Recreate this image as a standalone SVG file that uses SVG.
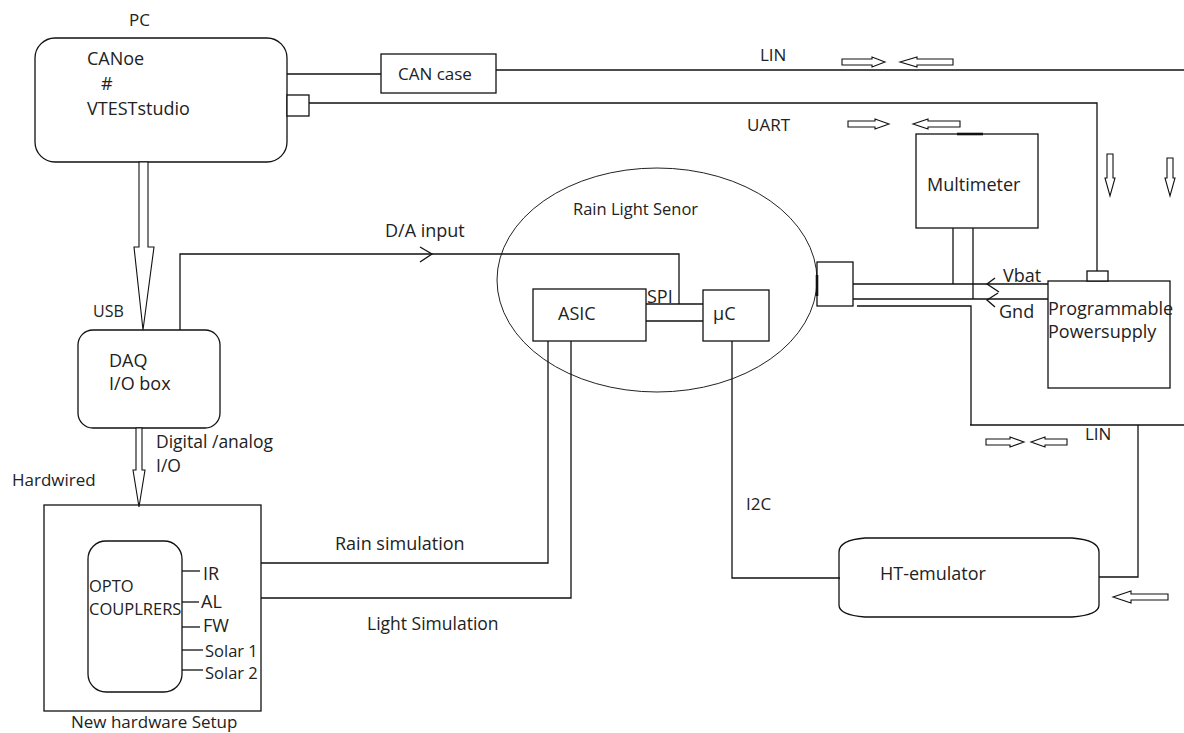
<svg xmlns="http://www.w3.org/2000/svg" width="1184" height="733" viewBox="0 0 1184 733">
<style>
.ln{fill:none;stroke:#111;stroke-width:1.3}
.bx{fill:#fff;stroke:#111;stroke-width:1.3}
.ha{fill:#fff;stroke:#111;stroke-width:1.1}
.th{fill:none;stroke:#111;stroke-width:2.6}
text{font-family:"Open Sans","Liberation Sans",sans-serif;font-size:18px;fill:#222}
.s17{font-size:17px}
.s16{font-size:16px}
.s165{font-size:16.5px}
.s175{font-size:17.5px}
</style>
<rect width="1184" height="733" fill="#fff"/>
<g id="pc">
<text x="129" y="26" class="s17">PC</text>
<rect class="bx" x="35" y="38" width="252" height="124" rx="20"/>
<text x="87" y="65">CANoe</text>
<text x="101" y="90">#</text>
<text x="87" y="115">VTESTstudio</text>
<rect class="bx" x="287" y="95" width="22" height="21"/>
</g>
<g id="can-case">
<rect class="bx" x="381" y="54" width="115" height="39"/>
<text x="398" y="80" class="s17">CAN case</text>
</g>
<g id="bus-labels">
<text x="760" y="61" class="s17">LIN</text>
<text x="747" y="131" class="s17">UART</text>
<text x="385" y="237">D/A input</text>
<text x="93" y="317" class="s16">USB</text>
<text x="156" y="448" class="s175">Digital /analog</text>
<text x="156" y="472" class="s175">I/O</text>
<text x="12" y="486" class="s17">Hardwired</text>
<text x="335" y="550">Rain simulation</text>
<text x="367" y="630" class="s175">Light Simulation</text>
<text x="746" y="510" class="s17">I2C</text>
<text x="1085" y="440" class="s17">LIN</text>
<text x="1003" y="282">Vbat</text>
<text x="999" y="318">Gnd</text>
</g>
<g id="multimeter">
<rect class="bx" x="916" y="134" width="122" height="94"/>
<polyline class="th" points="957,134 983,134"/>
<text x="927" y="191">Multimeter</text>
</g>
<g id="rain-light-sensor">
<ellipse cx="657" cy="280" rx="160" ry="112" fill="none" stroke="#222" stroke-width="1"/>
<text x="573" y="215" class="s165">Rain Light Senor</text>
</g>
<g id="asic">
<rect class="bx" x="533" y="289" width="113" height="52"/>
<text x="558" y="320">ASIC</text>
<text x="647" y="303">SPI</text>
</g>
<g id="uc">
<rect class="bx" x="703" y="290" width="66" height="51"/>
<text x="713" y="320">µC</text>
</g>
<g id="connector-block">
<rect class="bx" x="817" y="262" width="36" height="44"/>
<polyline class="th" points="817,275 817,296"/>
</g>
<g id="power-supply">
<rect class="bx" x="1048" y="281" width="122" height="107"/>
<rect class="bx" x="1087" y="271" width="21" height="10"/>
<text x="1048" y="315">Programmable</text>
<text x="1048" y="338">Powersupply</text>
</g>
<g id="daq">
<rect class="bx" x="78" y="330" width="142" height="98" rx="15"/>
<text x="109" y="367">DAQ</text>
<text x="109" y="390">I/O box</text>
</g>
<g id="new-hardware-setup">
<rect class="bx" x="44" y="505" width="217" height="206"/>
<text x="71" y="728" class="s17">New hardware Setup</text>
</g>
<g id="opto-couplers">
<rect class="bx" x="88" y="541" width="94" height="151" rx="18"/>
<text x="89" y="592" class="s165">OPTO</text>
<text x="89" y="615" class="s165">COUPLRERS</text>
<text x="203" y="580">IR</text>
<text x="201" y="608">AL</text>
<text x="203" y="632">FW</text>
<text x="205" y="657" class="s165">Solar 1</text>
<text x="205" y="679" class="s165">Solar 2</text>
</g>
<g id="ht-emulator">
<path class="bx" d="M865,538 L1072,538 Q1099,540 1099,552 L1099,605 Q1099,615 1072,617 L865,617 Q839,615 839,605 L839,552 Q839,540 865,538 Z"/>
<text x="880" y="580">HT-emulator</text>
</g>
<g id="connectors">
<polyline class="ln" points="287,74 381,74"/>
<polyline class="ln" points="496,70 1184,70"/>
<polyline class="ln" points="309,103 1097,103 1097,271"/>
<polyline class="ln" points="180,330 180,254 679,254 679,304"/>
<polyline class="ln" points="420,247 432,254 420,262"/>
<polyline class="ln" points="646,304 703,304"/>
<polyline class="ln" points="646,321 703,321"/>
<polyline class="ln" points="548,341 548,563 261,563"/>
<polyline class="ln" points="571,341 571,598 261,598"/>
<polyline class="ln" points="732,341 732,578 840,578"/>
<polyline class="ln" points="1099,577 1138,577 1138,425"/>
<polyline class="ln" points="970,425 1184,425"/>
<polyline class="ln" points="857,306 971,306 971,425"/>
<polyline class="ln" points="853,284 1048,284"/>
<polyline class="ln" points="853,299 1048,299"/>
<polyline class="ln" points="953,228 953,284"/>
<polyline class="ln" points="973,228 973,299"/>
<polyline class="ln" points="995,278 987,284 999,292"/>
<polyline class="ln" points="998,293 987,300 995,307"/>
<polyline class="ln" points="182,571 200,571"/>
<polyline class="ln" points="182,602 199,602"/>
<polyline class="ln" points="182,627 200,627"/>
<polyline class="ln" points="182,650 203,650"/>
<polyline class="ln" points="182,670 203,670"/>
<polygon class="ha" points="139,162 148,162 148,247 154,247 143,330 134,247 139,247"/>
<polygon class="ha" points="136,428 142,428 142,470 145,470 139,507 133,470 136,470"/>
<polygon class="ha" points="842,59 872,59 872,57 885,62 872,67 872,65 842,65"/>
<polygon class="ha" points="900,62 917,57 917,59 953,59 953,65 917,65 917,67"/>
<polygon class="ha" points="848,121 875,121 875,119 889,124 875,129 875,127 848,127"/>
<polygon class="ha" points="913,124 928,119 928,121 960,121 960,127 928,127 928,129"/>
<polygon class="ha" points="1107,154 1113,154 1113,178 1115,178 1110,196 1105,178 1107,178"/>
<polygon class="ha" points="1167,158 1173,158 1173,178 1175,178 1170,196 1165,178 1167,178"/>
<polygon class="ha" points="986,439 1010,439 1010,437 1024,442 1010,447 1010,445 986,445"/>
<polygon class="ha" points="1031,442 1045,437 1045,439 1067,439 1067,445 1045,445 1045,447"/>
<polygon class="ha" points="1113,597 1131,591 1131,594 1168,594 1168,600 1131,600 1131,603"/>
</g>
</svg>
